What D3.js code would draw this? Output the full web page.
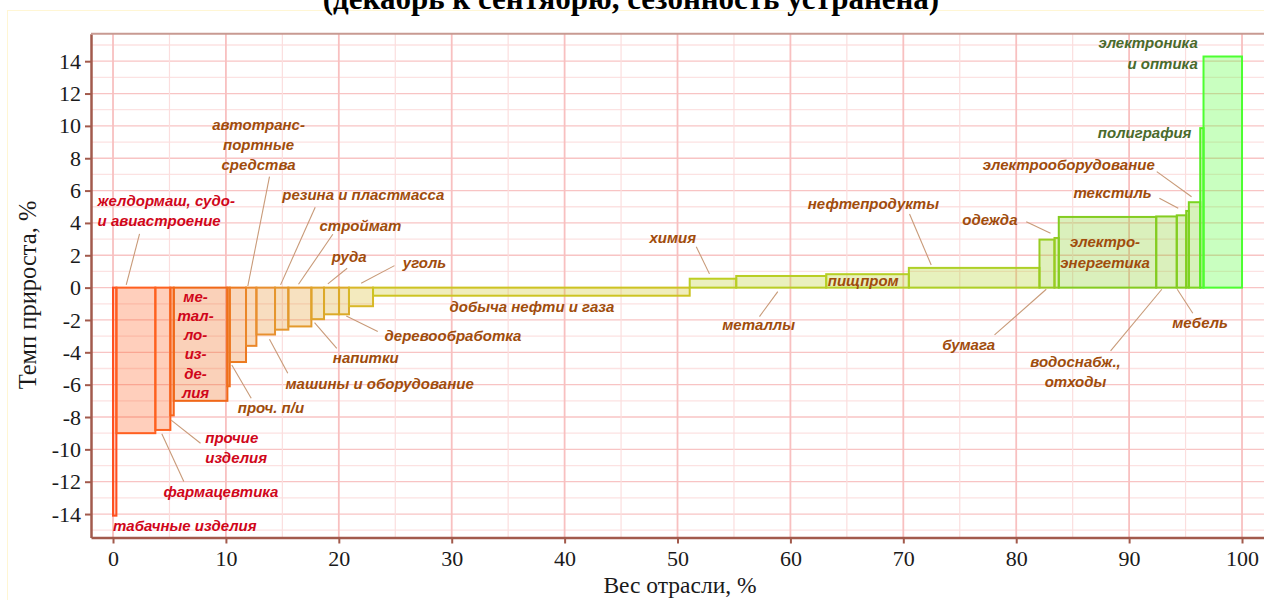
<!DOCTYPE html>
<html>
<head>
<meta charset="utf-8">
<script src="https://cdn.jsdelivr.net/npm/d3@7"></script>
<style>
body { margin: 0; background: #fff; }
</style>
</head>
<body>
<svg id="chart" width="1264" height="600"></svg>
<script>

//****************************************************************************************************************************//
// Data

var sectors = ["табачные изделия", "желдормаш, судо- и авиастроение", "фармацевтика", "прочие изделия", "металлоизделия",
	"прочие транспортные средства", "проч. п/и", "автотранспортные средства", "машины и оборудование", "резина и пластмасса",
	"стройматериалы", "напитки", "руда", "деревообработка", "уголь", "добыча нефти и газа", "химия", "металлы", "пищпром",
	"нефтепродукты", "бумага", "одежда", "электроэнергетика", "водоснабж., отходы", "текстиль", "мебель",
	"электрооборудование", "полиграфия", "электроника и оптика"];

var weights = [0.30, 3.45, 1.33, 0.30, 4.75, 0.21, 1.44, 0.92, 1.65, 1.18, 2.04, 1.12, 1.33, 0.88, 2.13, 28.05, 4.12, 7.97,
	7.32, 11.57, 1.33, 0.38, 8.63, 1.82, 0.84, 0.23, 1.01, 0.29, 3.41];

var growth = [-14.1, -9.0, -8.8, -7.9, -7.0, -6.1, -4.6, -3.6, -2.9, -2.6, -2.4, -1.95, -1.65, -1.65, -1.15, -0.5, 0.55, 0.72,
	0.83, 1.22, 2.97, 3.07, 4.37, 4.4, 4.47, 4.74, 5.28, 9.86, 14.29];

var xTicks = [0, 10, 20, 30, 40, 50, 60, 70, 80, 90, 100];
var yTicks = [-14, -12, -10, -8, -6, -4, -2, 0, 2, 4, 6, 8, 10, 12, 14];

// colour of a bar follows its growth rate
var colorValues = [-14, -9, -7, -4.6, -2.9, -1.65, -1.15, -0.5, 0.6, 1.2, 3, 4.4, 5.3, 9.9, 14.3];
var colorList = ["#ff5020", "#ff6020", "#f06818", "#ec7a20", "#e89030", "#dcaa28", "#d8b828", "#cdc422", "#bcce24",
	"#aed026", "#98cc22", "#84cc20", "#7cd420", "#55ee22", "#4cff30"];

// annotations, in chart units: first baseline x/y, leader from (lx1,ly1) to (lx2,ly2)
var labels = [
	{ lines: ["желдормаш, судо-", "и авиастроение"], x: -1.37, y: 5.05, anchor: "start", group: "neg", leader: [2.35, 3.32, 1.17, 0.17] },
	{ lines: ["автотранс-", "портные", "средства"], x: 12.89, y: 9.75, anchor: "middle", group: "mid", leader: [13.86, 6.86, 11.94, 0.1] },
	{ lines: ["резина и пластмасса"], x: 14.99, y: 5.42, anchor: "start", group: "mid", leader: [17.91, 4.97, 14.84, 0.17] },
	{ lines: ["строймат"], x: 18.29, y: 3.5, anchor: "start", group: "mid", leader: [19.47, 3.3, 16.43, 0.21] },
	{ lines: ["руда"], x: 19.38, y: 1.59, anchor: "start", group: "mid", leader: [20.74, 1.2, 19.03, 0.23] },
	{ lines: ["уголь"], x: 25.67, y: 1.22, anchor: "start", group: "mid", leader: [24.93, 1.36, 21.98, 0.27] },
	{ lines: ["добыча нефти и газа"], x: 29.8, y: -1.5, anchor: "start", group: "mid" },
	{ lines: ["деревообработка"], x: 24.05, y: -3.29, anchor: "start", group: "mid", leader: [23.45, -2.72, 20.66, -1.75] },
	{ lines: ["напитки"], x: 19.47, y: -4.65, anchor: "start", group: "mid", leader: [19.82, -3.75, 17.85, -2.16] },
	{ lines: ["машины и оборудование"], x: 15.28, y: -6.26, anchor: "start", group: "mid", leader: [15.48, -5.29, 13.86, -3.19] },
	{ lines: ["проч. п/и"], x: 11.05, y: -7.74, anchor: "start", group: "mid", leader: [12.24, -6.84, 10.52, -4.78] },
	{ lines: ["прочие", "изделия"], x: 8.17, y: -9.6, anchor: "start", group: "neg", leader: [7.75, -9.62, 5.15, -8.19] },
	{ lines: ["фармацевтика"], x: 4.47, y: -12.94, anchor: "start", group: "neg", leader: [6.27, -11.99, 4.32, -9.04] },
	{ lines: ["табачные изделия"], x: 0, y: -15.04, anchor: "start", group: "neg" },
	{ lines: ["ме-", "тал-", "ло-", "из-", "де-", "лия"], x: 7.31, y: -0.88, anchor: "middle", group: "neg", step: 19.2 },
	{ lines: ["химия"], x: 47.52, y: 2.76, anchor: "start", group: "mid", leader: [51.66, 2.53, 52.83, 0.85] },
	{ lines: ["металлы"], x: 53.96, y: -2.61, anchor: "start", group: "mid", leader: [57.26, -1.79, 58.88, -0.25] },
	{ lines: ["пищпром"], x: 63.31, y: 0.11, anchor: "start", group: "mid" },
	{ lines: ["нефтепродукты"], x: 61.54, y: 4.86, anchor: "start", group: "mid", leader: [70.55, 4.55, 72.47, 1.4] },
	{ lines: ["одежда"], x: 75.22, y: 3.88, anchor: "start", group: "mid", leader: [80.89, 4.08, 83.04, 3.36] },
	{ lines: ["бумага"], x: 73.45, y: -3.85, anchor: "start", group: "mid", leader: [78.08, -2.92, 82.66, -0.1] },
	{ lines: ["электро-", "энергетика"], x: 87.87, y: 2.52, anchor: "middle", group: "mid", step: 21 },
	{ lines: ["водоснабж.,", "отходы"], x: 85.25, y: -4.9, anchor: "middle", group: "mid", leader: [88.36, -3.91, 92.9, -0.1] },
	{ lines: ["мебель"], x: 93.82, y: -2.49, anchor: "start", group: "mid", leader: [95.64, -1.58, 94.26, -0.1] },
	{ lines: ["текстиль"], x: 85.07, y: 5.54, anchor: "start", group: "mid", leader: [92.68, 5.53, 94.35, 4.91] },
	{ lines: ["электрооборудование"], x: 77.04, y: 7.27, anchor: "start", group: "mid", leader: [92.45, 7.17, 95.53, 5.62] },
	{ lines: ["полиграфия"], x: 87.23, y: 9.25, anchor: "start", group: "pos" },
	{ lines: ["электроника", "и оптика"], x: 96.08, y: 14.82, anchor: "end", group: "pos", step: 21 }
];
var labelColors = { neg: "#d0061a", mid: "#a04c0c", pos: "#4a6a2c" };

//****************************************************************************************************************************//
// Canvas and scales

var width = 1264, height = 600;
var canvas = d3.select("#chart");

var x = d3.scaleLinear().domain([-1.95, 102]).range([91, 91 + 103.95 * 11.29]);
var y = d3.scaleLinear().domain([-15.45, 15.7]).range([537.5, 33.7]);
var color = d3.scaleLinear().domain(colorValues).range(colorList);

canvas.append("rect")
	.attr("x", 7.5).attr("y", 10.5)
	.attr("width", 1300).attr("height", 620)
	.attr("fill", "none")
	.attr("stroke", "#fff6d4");

canvas.append("text")
	.attr("x", 631)
	.attr("y", 9)
	.attr("text-anchor", "middle")
	.style("font-family", "Liberation Serif")
	.style("font-weight", "bold")
	.style("font-size", "31px")
	.text("(декабрь к сентябрю, сезонность устранена)");

//****************************************************************************************************************************//
// Grid

var grid = canvas.append("g");

grid.selectAll(".hgrid")
	.data(d3.range(-15, 16))
	.enter().append("line")
	.attr("x1", x.range()[0]).attr("x2", x.range()[1])
	.attr("y1", function(d){ return y(d); })
	.attr("y2", function(d){ return y(d); })
	.attr("stroke", function(d){ return d % 2 === 0 ? "#f8c4c4" : "#fce2e2"; })
	.attr("stroke-width", 1.3);

grid.selectAll(".vgrid")
	.data(d3.range(0, 105, 5))
	.enter().append("line")
	.attr("y1", y.range()[0]).attr("y2", y.range()[1])
	.attr("x1", function(d){ return x(d); })
	.attr("x2", function(d){ return x(d); })
	.attr("stroke", function(d){ return d % 10 === 0 ? "#f8c0c0" : "#fbdede"; })
	.attr("stroke-width", function(d){ return d % 10 === 0 ? 1.8 : 1.2; });

//****************************************************************************************************************************//
// Bars

var starts = [];
var acc = 0;
weights.forEach(function(w){ starts.push(acc); acc += w; });

var bars = canvas.append("g");
bars.selectAll("rect")
	.data(sectors)
	.enter().append("rect")
	.attr("x", function(d, i){ return x(starts[i]); })
	.attr("width", function(d, i){ return x(starts[i] + weights[i]) - x(starts[i]); })
	.attr("y", function(d, i){ return y(Math.max(0, growth[i])); })
	.attr("height", function(d, i){ return Math.abs(y(growth[i]) - y(0)); })
	.attr("fill", function(d, i){ return color(growth[i]); })
	.attr("fill-opacity", 0.3)
	.attr("stroke", function(d, i){ return color(growth[i]); })
	.attr("stroke-width", 2);

//****************************************************************************************************************************//
// Axes

var yAxis = canvas.append("g")
	.attr("transform", "translate(" + x.range()[0] + ",0)")
	.call(d3.axisLeft(y).tickValues(yTicks).tickFormat(function(d){ return String(d); })
		.tickSize(6).tickPadding(4).tickSizeOuter(0));

var xAxis = canvas.append("g")
	.attr("transform", "translate(0," + y.range()[0] + ")")
	.call(d3.axisBottom(x).tickValues(xTicks).tickSize(6).tickPadding(7).tickSizeOuter(0));

[yAxis, xAxis].forEach(function(ax){
	ax.select(".domain").attr("stroke", "#a25a4c").attr("stroke-width", 2.5);
	ax.selectAll(".tick line").attr("stroke", "#a25a4c").attr("stroke-width", 2);
	ax.selectAll(".tick text")
		.attr("fill", "#1a1a1a")
		.style("font-family", "Liberation Serif")
		.style("font-size", "22px");
});

canvas.append("line")
	.attr("x1", x.range()[0]).attr("x2", x.range()[1])
	.attr("y1", y.range()[1]).attr("y2", y.range()[1])
	.attr("stroke", "#c89a92")
	.attr("stroke-width", 2);

canvas.append("text")
	.attr("x", 680)
	.attr("y", 593)
	.attr("text-anchor", "middle")
	.style("font-family", "Liberation Serif")
	.style("font-size", "23.5px")
	.attr("fill", "#1a1a1a")
	.text("Вес отрасли, %");

canvas.append("text")
	.attr("transform", "translate(36,295) rotate(-90)")
	.attr("text-anchor", "middle")
	.style("font-family", "Liberation Serif")
	.style("font-size", "24.5px")
	.attr("fill", "#1a1a1a")
	.text("Темп прироста, %");

//****************************************************************************************************************************//
// Labels and leaders

var notes = canvas.append("g");

labels.forEach(function(l){
	if (l.leader) {
		notes.append("line")
			.attr("x1", x(l.leader[0])).attr("y1", y(l.leader[1]))
			.attr("x2", x(l.leader[2])).attr("y2", y(l.leader[3]))
			.attr("stroke", "#c89a78")
			.attr("stroke-width", 1.1);
	}
	var t = notes.append("text")
		.attr("x", x(l.x))
		.attr("y", y(l.y))
		.attr("text-anchor", l.anchor)
		.attr("fill", labelColors[l.group])
		.style("font-family", "Liberation Sans")
		.style("font-weight", "bold")
		.style("font-style", "italic")
		.style("font-size", "15px");
	l.lines.forEach(function(s, k){
		t.append("tspan")
			.attr("x", x(l.x))
			.attr("dy", k === 0 ? 0 : (l.step || 20))
			.text(s);
	});
});

</script>
</body>
</html>
